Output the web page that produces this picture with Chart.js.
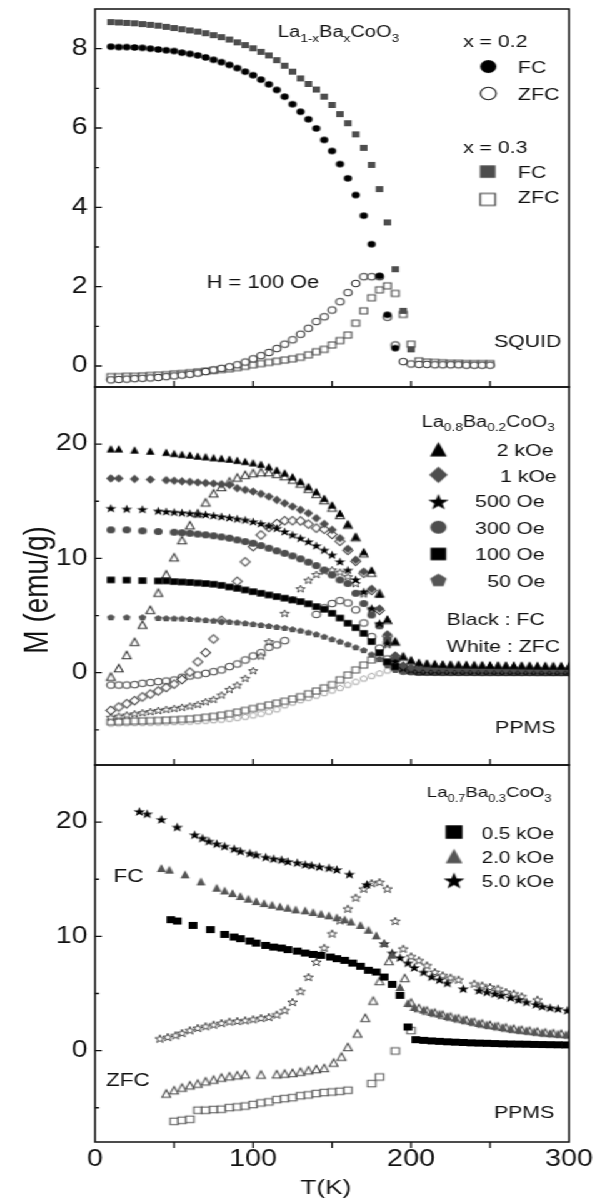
<!DOCTYPE html>
<html>
<head>
<meta charset="utf-8">
<title>M(T) — La1-xBaxCoO3</title>
<script src="https://cdn.jsdelivr.net/npm/chart.js@4.4.1/dist/chart.umd.min.js"></script>
<style>
  html, body { margin:0; padding:0; background:#fff; overflow:hidden; }
  /* panels are laid out on a 480px grid and stretched to the 600px page width */
  #stage { position:absolute; left:0; top:0; width:480px; height:1202px; transform:scaleX(1.25); transform-origin:0 0; }
  #stage canvas { position:absolute; left:0; }
</style>
</head>
<body>
<div id="stage">
  <canvas id="chart-squid" width="480" height="392" style="top:0"></canvas>
  <canvas id="chart-x02" width="480" height="388" style="top:382px"></canvas>
  <canvas id="chart-x03" width="480" height="442" style="top:760px"></canvas>
</div>
<script>
/* ---------- SQUID, H = 100 Oe (x = 0.2 and x = 0.3) ---------- */
const squidT = [10,15,20,25,30,35,40,45,50,55, 60,65,70,75,80,85,90,95,100,105,
  110,115,120,125,130,135,140,145,150,155, 160,165,170,175,180,185,190,195,200,205,
  210,215,220,225,230,235,240,245,250];
const squidFC02 = [8.05,8.04,8.04,8.03,8.02,8.0,7.98,7.96,7.94,7.9, 7.87,7.83,7.78,7.72,7.66,7.59,7.51,7.42,7.33,7.22,
  7.1,6.96,6.79,6.6,6.41,6.22,5.99,5.7,5.42,5.09, 4.73,4.31,3.79,3.07,2.27,1.29,0.45,null,null,null,
  null,null,null,null,null,null,null,null,null];
const squidZFC02 = [-0.35,-0.34,-0.33,-0.32,-0.31,-0.3,-0.29,-0.27,-0.25,-0.23, -0.21,-0.18,-0.14,-0.1,-0.06,-0.02,0.03,0.1,0.18,0.26,
  0.34,0.44,0.55,0.66,0.8,0.95,1.12,1.24,1.41,1.62, 1.85,2.08,2.25,2.25,2.25,1.23,0.53,0.11,0.05,0.04,
  0.04,0.03,0.03,0.03,0.03,0.02,0.02,0.02,0.02];
const squidFC03 = [8.67,8.66,8.65,8.64,8.62,8.6,8.58,8.55,8.52,8.49, 8.46,8.43,8.39,8.34,8.29,8.23,8.16,8.09,8.01,7.92,
  7.83,7.71,7.57,7.42,7.25,7.11,6.97,6.79,6.58,6.35, 6.12,5.84,5.5,5.07,4.46,3.62,2.44,1.39,0.42,null,
  null,null,null,null,null,null,null,null,null];
const squidZFC03 = [-0.27,-0.27,-0.26,-0.26,-0.25,-0.24,-0.23,-0.22,-0.2,-0.19, -0.17,-0.15,-0.13,-0.11,-0.09,-0.07,-0.04,-0.01,0.03,0.06,
  0.09,0.12,0.15,0.18,0.22,0.28,0.36,0.42,0.53,0.64, 0.78,1.08,1.39,1.72,1.92,2.02,1.83,1.3,0.55,0.13,
  0.1,0.09,0.08,0.07,0.07,0.06,0.06,0.06,0.06];

/* ---------- PPMS, La0.8Ba0.2CoO3, six fields (null = no reading) ---------- */
const ppmsT = [10,15,20,25,30,35,40,45,50,55, 60,65,70,75,80,85,90,95,100,105,
  110,115,120,125,130,135,140,145,150,155, 160,165,170,175,180,185,190,195,200,205,
  210,215,220,225,230,235,240,245,250,255, 260,265,270,275,280,285,290,295,300];
const fc2k = [19.6,19.6,null,19.5,null,19.4,null,19.3,19.2,19.12, 19.06,18.97,18.91,18.83,18.77,18.7,18.6,18.5,18.38,18.25,
  18.04,17.75,17.5,17.16,16.75,16.3,15.85,15.27,14.69,13.96, 13.02,11.91,10.6,9.0,6.9,4.7,2.75,1.45,1.1,0.9,
  0.82,0.78,0.75,0.73,0.71,0.7,0.69,0.68,0.67,0.66, 0.65,0.64,0.63,0.62,0.61,0.6,0.6,0.59,0.58];
const zfc2k = [-0.35,0.4,1.55,2.7,4.2,5.5,7.0,8.6,10.1,11.6, 12.9,13.95,14.9,15.7,16.25,16.73,17.08,17.31,17.46,17.55,
  17.55,17.4,17.2,16.9,16.55,16.1,15.65,15.1,14.45,13.8, 12.95,11.85,10.45,8.75,6.95,4.6,2.72,1.4,1.05,0.8,
  0.74,0.7,0.67,0.65,0.64,0.63,0.62,0.61,0.6,0.59, 0.58,0.57,0.56,0.56,0.55,0.55,0.54,0.54,0.53];
const fc1k = [17.0,17.0,null,16.95,null,16.9,null,16.85,16.8,16.75, 16.7,16.65,16.6,16.55,16.5,16.44,16.15,16.0,15.85,15.65,
  15.41,15.12,14.83,14.54,14.25,13.96,13.52,13.02,12.5,11.77, 10.83,9.87,8.84,7.33,5.6,3.35,1.5,0.6,0.4,0.36,
  0.34,0.33,0.32,0.31,0.3,0.3,0.29,0.29,0.28,0.28, 0.27,0.27,0.27,0.26,0.26,0.26,0.25,0.25,0.25];
const zfc1k = [-3.3,-3.0,-2.72,-2.45,-2.12,-1.87,-1.6,-1.3,-1.0,-0.6, 0.05,0.95,1.75,2.95,4.58,null,8.0,9.7,11.03,12.05,
  12.7,13.05,13.3,13.3,13.28,13.0,12.65,12.55,12.1,11.5, 10.7,9.75,8.7,7.2,5.45,3.2,1.4,0.55,0.35,0.33,
  0.32,0.31,0.3,0.29,0.29,0.28,0.28,0.27,0.27,0.26, 0.26,0.26,0.25,0.25,0.25,0.24,0.24,0.24,0.24];
const fc500 = [14.39,null,14.33,null,14.3,null,14.16,14.1,14.05,14.0, 13.95,13.9,13.84,13.75,13.66,13.57,13.46,13.37,13.22,13.05,
  12.85,12.64,12.35,12.06,11.77,11.47,11.12,10.74,10.31,9.72, 8.99,8.15,7.09,5.64,4.33,2.6,1.0,0.4,0.25,0.22,
  0.21,0.2,0.2,0.19,0.19,0.18,0.18,0.18,0.17,0.17, 0.17,0.16,0.16,0.16,0.16,0.15,0.15,0.15,0.15];
const zfc500 = [-3.9,-3.8,-3.7,-3.6,-3.5,-3.4,-3.3,-3.21,-3.12,-3.03, -2.92,-2.77,-2.54,-2.33,-1.95,-1.46,-1.08,-0.49,0.18,1.46,
  2.72,null,5.2,6.4,7.35,8.1,8.6,8.9,9.0,8.8, 8.4,7.8,6.9,5.5,4.2,2.45,0.9,0.3,0.2,0.19,
  0.18,0.18,0.17,0.17,0.17,0.16,0.16,0.16,0.15,0.15, 0.15,0.15,0.14,0.14,0.14,0.14,0.13,0.13,0.13];
const fc300 = [12.5,null,12.5,null,12.41,null,12.35,null,12.29,12.25, 12.2,12.13,12.06,11.98,11.88,11.77,11.62,11.47,11.33,11.12,
  10.89,10.66,10.45,10.22,9.96,9.67,9.37,8.99,8.55,8.12, 7.8,6.95,6.05,5.05,4.1,2.9,1.2,0.3,0.15,0.13,
  0.12,0.12,0.11,0.11,0.1,0.1,0.1,0.1,0.09,0.09, 0.09,0.09,0.08,0.08,0.08,0.08,0.08,0.07,0.07];
const zfc300 = [-1.08,-1.08,-1.08,-1.05,-0.93,-0.87,-0.78,-0.73,-0.64,-0.4, -0.29,-0.2,-0.06,0.09,0.24,0.53,0.76,1.11,1.46,1.75,
  2.22,2.43,2.8,null,null,null,5.1,5.68,6.05,6.3, 6.1,5.5,4.35,3.15,2.15,1.2,0.45,0.15,0.1,0.1,
  0.09,0.09,0.09,0.08,0.08,0.08,0.08,0.07,0.07,0.07, 0.07,0.07,0.06,0.06,0.06,0.06,0.06,0.06,0.05];
const fc100 = [8.12,null,8.1,null,8.06,null,8.03,8.03,7.97,7.94, 7.9,7.85,7.8,7.74,7.64,7.5,7.38,7.24,7.09,6.95,
  6.8,6.66,6.52,6.37,6.22,6.03,5.78,5.55,5.2,4.78, 4.33,3.94,3.44,2.72,1.75,0.96,0.53,0.38,0.2,0.07,
  0.07,0.06,0.06,0.06,0.05,0.05,0.05,0.05,0.05,0.04, 0.04,0.04,0.04,0.04,0.04,0.04,0.03,0.03,0.03];
const zfc100 = [-4.3,-4.28,-4.26,-4.24,-4.22,-4.2,-4.18,-4.15,-4.12,-4.08, -4.04,-3.98,-3.9,-3.82,-3.72,-3.6,-3.45,-3.3,-3.14,-2.98,
  -2.82,-2.66,-2.5,-2.3,-2.1,-1.85,-1.6,-1.33,-1.05,-0.62, -0.2,0.24,0.67,1.11,1.26,0.95,0.55,0.3,0.15,0.06,
  0.06,0.06,0.05,0.05,0.05,0.05,0.05,0.04,0.04,0.04, 0.04,0.04,0.04,0.04,0.03,0.03,0.03,0.03,0.03];
const fc50 = [4.85,null,4.85,null,4.85,null,4.78,4.76,4.75,4.73, 4.7,4.66,4.6,4.55,4.5,4.45,4.4,4.33,4.25,4.17,
  4.09,4.0,3.92,3.8,3.68,3.52,3.36,3.15,2.93,2.72, 2.48,2.22,1.97,1.6,1.2,0.65,0.24,0.1,0.05,0.04,
  0.04,0.04,0.03,0.03,0.03,0.03,0.03,0.03,0.02,0.02, 0.02,0.02,0.02,0.02,0.02,0.02,0.02,0.02,0.02];
const zfc50 = [-4.45,-4.43,-4.42,-4.4,-4.39,-4.38,-4.36,-4.34,-4.32,-4.3, -4.27,-4.24,-4.2,-4.15,-4.1,-4.03,-3.95,-3.85,-3.73,-3.58,
  -3.4,-3.2,-2.85,-2.6,-2.4,-2.2,-2.0,-1.78,-1.55,-1.32, -1.05,-0.78,-0.5,-0.27,-0.05,0.2,0.35,0.2,0.1,0.04,
  0.04,0.03,0.03,0.03,0.03,0.03,0.02,0.02,0.02,0.02, 0.02,0.02,0.02,0.02,0.02,0.02,0.02,0.02,0.02];

/* ---------- PPMS, La0.7Ba0.3CoO3, three fields ---------- */
const fc05T = [48,52,62,73,82,88,92,98,102,108, 113,118,122,128,133,138,143,149,153,158,
  163,168,173,178,183,188,193,198,203,208, 213,218,223,228,233,238,243,248,253,258,
  263,268,273,278,283,288,293,298];
const fc05 = [11.46,11.34,10.96,10.59,10.17,9.94,9.8,9.59,9.41,9.21, 9.06,8.98,8.84,8.71,8.54,8.42,8.34,8.19,8.05,7.9,
  7.66,7.38,7.03,6.88,6.44,5.8,4.84,2.07,0.96,0.9, 0.85,0.81,0.77,0.74,0.71,0.68,0.66,0.64,0.62,0.6,
  0.58,0.57,0.56,0.54,0.53,0.52,0.51,0.5];
const zfc05T = [50,55,60,65,70,75,80,85,90,95, 100,105,110,115,120,125,130,135,140,145, 150,155,160,175,180,190,200];
const zfc05 = [-6.19,-6.1,-6.01,-5.22,-5.22,-5.16,-5.13,-4.99,-4.93,-4.85, -4.72,-4.58,-4.49,-4.29,-4.2,-4.12,-3.95,-3.88,-3.76,-3.67,
  -3.62,-3.56,-3.47,-2.89,-2.31,-0.03,1.75];
const fc20T = [42,47,57,67,77,82,87,92,97,102, 107,112,117,122,127,133,138,143,148,153,
  158,162,168,173,178,183,188,193,198,202, 208,213,218,223,228,233,238,243,248,253,
  258,263,268,273,278,283,288,293,298];
const fc20 = [15.98,15.84,15.43,14.81,14.26,14.02,13.79,13.53,13.3,13.09, 12.91,12.77,12.62,12.51,12.36,12.28,12.13,11.98,11.84,11.67,
  11.49,11.3,11.0,10.58,10.09,9.41,8.4,5.57,4.17,3.82, 3.59,3.38,3.24,3.03,2.89,2.74,2.59,2.42,2.3,2.19,
  2.07,1.95,1.86,1.78,1.69,1.6,1.54,1.49,1.43];
const zfc20T = [45,50,55,60,65,70,75,80,85,90, 95,105,115,120,125,130,135,140,145,151,
  156,160,166,171,176,180,186,196,200,205, 210,215,220,225,230,235,240,245,250,255,
  260,265,270,275,280,285,290,295,300];
const zfc20 = [-3.76,-3.47,-3.24,-3.04,-2.89,-2.69,-2.54,-2.36,-2.25,-2.16, -2.07,-2.1,-2.07,-2.01,-1.95,-1.85,-1.72,-1.62,-1.52,-1.05,
  -0.53,0.32,1.5,2.87,4.37,6.09,7.84,6.35,4.2,3.72, 3.5,3.32,3.14,2.97,2.82,2.67,2.52,2.37,2.25,2.13,
  2.02,1.91,1.82,1.74,1.66,1.58,1.52,1.47,1.42];
const fc50kT = [28,33,42,52,63,68,72,77,82,88, 92,98,102,108,113,118,122,128,133,137,
  142,148,153,161,172,183,188,193,198,202, 208,213,218,223,233,243,248,253,257,263,
  268,273,279,283,288,293,299];
const fc50k = [20.94,20.73,20.24,19.57,18.9,18.6,18.34,18.11,17.9,17.67, 17.46,17.29,17.14,16.94,16.8,16.71,16.56,16.45,16.3,16.22,
  16.1,16.0,15.85,15.45,14.55,9.38,8.55,8.14,7.68,7.28, 6.88,6.47,6.21,5.92,5.42,5.28,5.13,4.99,4.84,4.64,
  4.46,4.25,4.05,3.88,3.76,3.67,3.53];
const zfc50kT = [41,46,51,55,60,65,70,75,80,85, 90,95,100,105,110,115,120,125,130,135,
  140,145,150,155,160,165,170,175,180,185, 190,195,200,205,210,215,220,225,230,240,
  245,250,255,260,265,270,280];
const zfc50k = [1.05,1.19,1.34,1.54,1.78,1.98,2.13,2.27,2.41,2.54, 2.59,2.65,2.74,2.85,2.94,3.15,3.53,4.25,5.2,6.44,
  7.76,9.0,10.24,11.4,12.42,13.39,14.17,14.66,14.75,14.17, 11.34,8.92,8.25,7.9,7.46,6.88,6.59,6.39,6.21,5.86,
  5.7,5.57,5.42,5.13,4.99,4.75,4.46];

/* ---------- drawing helpers ---------- */
const FONT = '"Liberation Sans", Arial, Helvetica, sans-serif';
const INK = '#111';

const pts = (xs, ys) => xs.map((x, i) => ({ x, y: ys[i] })).filter(p => p.y !== null);

// point sprites; h is the marker height in px
function sprite(shape, h, fill, stroke, lw = 1.1){
  const pad = Math.ceil(lw) + 1;
  const dim = Math.ceil(h) + pad * 2;
  const c = document.createElement('canvas');
  c.width = c.height = dim;
  const g = c.getContext('2d');
  const cx = dim / 2, cy = dim / 2, r = h / 2;
  g.beginPath();
  if(shape === 'circle') g.arc(cx, cy, r, 0, Math.PI * 2);
  else if(shape === 'square') g.rect(cx - r, cy - r, h, h);
  else if(shape === 'diamond'){ g.moveTo(cx, cy - r); g.lineTo(cx + r * 0.9, cy); g.lineTo(cx, cy + r); g.lineTo(cx - r * 0.9, cy); g.closePath(); }
  else if(shape === 'triangle'){ g.moveTo(cx, cy - r); g.lineTo(cx + h * 0.46, cy + r); g.lineTo(cx - h * 0.46, cy + r); g.closePath(); }
  else {
    // five-pointed star or pentagon
    const R = h / 1.81, inner = shape === 'star' ? R * 0.4 : R * Math.cos(Math.PI / 5);
    const oy = cy + R * 0.1;
    for(let i = 0; i < 10; i++){
      const a = -Math.PI / 2 + i * Math.PI / 5;
      const rad = i % 2 ? inner : R;
      if(shape === 'pentagon' && i % 2) continue;
      const px = cx + rad * Math.cos(a), py = oy + rad * Math.sin(a);
      i ? g.lineTo(px, py) : g.moveTo(px, py);
    }
    g.closePath();
  }
  if(fill){ g.fillStyle = fill; g.fill(); }
  if(stroke){ g.lineWidth = lw; g.strokeStyle = stroke; g.lineJoin = 'miter'; g.stroke(); }
  return c;
}

function drawRich(ctx, x, y, parts, size, align){
  const widths = parts.map(([txt, sub]) => { ctx.font = `${sub ? size * 0.68 : size}px ${FONT}`; return ctx.measureText(txt).width; });
  let cx = align === 'right' ? x - widths.reduce((a, b) => a + b, 0) : x;
  parts.forEach(([txt, sub], i) => {
    ctx.font = `${sub ? size * 0.68 : size}px ${FONT}`;
    ctx.fillText(txt, cx, sub ? y + size * 0.3 : y);
    cx += widths[i];
  });
}

// frame, inward ticks, labels and key symbols for one panel
const panelPlugin = {
  id: 'panel',
  afterDatasetsDraw(chart, args, opts){
    const { ctx, chartArea: a, scales: { x, y } } = chart;
    ctx.save();
    ctx.strokeStyle = INK;
    ctx.lineWidth = 1.5;
    ctx.strokeRect(a.left, a.top, a.right - a.left, a.bottom - a.top);

    ctx.beginPath();
    opts.yMinor.concat(opts.yMajor).forEach(v => {
      const py = y.getPixelForValue(v);
      ctx.moveTo(a.left, py);
      ctx.lineTo(a.left + (opts.yMajor.includes(v) ? 5.4 : 3.2), py);
    });
    const dir = opts.xTicksOut ? 1 : -1;
    [50, 100, 150, 200, 250].forEach(v => {
      const px = x.getPixelForValue(v);
      ctx.moveTo(px, a.bottom);
      ctx.lineTo(px, a.bottom + dir * 6);
    });
    ctx.lineWidth = 1.3;
    ctx.stroke();

    ctx.fillStyle = INK;
    ctx.textBaseline = 'alphabetic';
    (opts.texts || []).forEach(t => {
      drawRich(ctx, x.getPixelForValue(t.t), y.getPixelForValue(t.m), t.parts, t.size || 17, t.align);
    });
    (opts.keys || []).forEach(k => {
      ctx.drawImage(k.img, x.getPixelForValue(k.t) - k.img.width / 2, y.getPixelForValue(k.m) - k.img.height / 2);
    });

    if(opts.yTitle){
      ctx.save();
      ctx.translate(opts.yTitle.px, y.getPixelForValue(opts.yTitle.m));
      ctx.rotate(-Math.PI / 2);
      ctx.font = `${opts.yTitle.size}px ${FONT}`;
      ctx.textAlign = 'center';
      ctx.textBaseline = 'middle';
      ctx.fillText(opts.yTitle.text, 0, 0);
      ctx.restore();
    }
    if(opts.xTitle){
      ctx.font = `${opts.xTitle.size}px ${FONT}`;
      ctx.textAlign = 'center';
      ctx.fillText(opts.xTitle.text, x.getPixelForValue(opts.xTitle.t), a.bottom + opts.xTitle.dy);
    }
    ctx.restore();
  }
};

// fixed axis boxes so the three frames line up edge to edge
function fixBox(s, w, h){
  if(w !== null) s.width = w;
  if(h !== null) s.height = h;
  s.paddingTop = s.paddingBottom = s.paddingLeft = s.paddingRight = 0;
}

function buildPanel(id, cfg){
  return new Chart(document.getElementById(id), {
    type: 'scatter',
    data: { datasets: cfg.series.map(s => ({ label: s.label, data: s.data, pointStyle: s.img, pointRadius: 4, pointHoverRadius: 4 })) },
    options: {
      responsive: false, animation: false, events: [],
      layout: { padding: { top: cfg.padTop, right: 24.8, bottom: 0, left: 0 } },
      plugins: { legend: { display: false }, tooltip: { enabled: false }, panel: cfg.panel },
      scales: {
        x: {
          type: 'linear', min: 0, max: 300, bounds: 'data',
          grid: { display: false, drawTicks: false }, border: { display: false },
          afterBuildTicks: s => { s.ticks = [0, 100, 200, 300].map(value => ({ value })); },
          afterFit: s => fixBox(s, null, cfg.xHeight),
          ticks: { display: !!cfg.xLabels, font: { family: FONT, size: 23 }, color: INK, padding: 4, maxRotation: 0, autoSkip: false }
        },
        y: {
          type: 'linear', min: cfg.yMin, max: cfg.yMax, bounds: 'data',
          grid: { display: false, drawTicks: false }, border: { display: false },
          afterBuildTicks: s => { s.ticks = cfg.panel.yMajor.map(value => ({ value })); },
          afterFit: s => fixBox(s, 76, null),
          ticks: { font: { family: FONT, size: 23 }, color: INK, padding: 6 }
        }
      }
    },
    plugins: [panelPlugin]
  });
}

/* ---------- marker styles ---------- */
const GRAY = '#4d4d4d';
const M = {
  dot: sprite('circle', 6.5, '#000'),
  ring: sprite('circle', 6.5, '#fff', '#333'),
  sq: sprite('square', 6, GRAY),
  box: sprite('square', 6, '#fff', '#444'),
  tri: sprite('triangle', 7.5, '#000'),
  triO: sprite('triangle', 7.5, '#fff', '#333'),
  dia: sprite('diamond', 8.5, GRAY),
  diaO: sprite('diamond', 8.5, '#fff', '#333'),
  star: sprite('star', 8.5, '#000'),
  starO: sprite('star', 7, '#fff', '#333', 0.9),
  ball: sprite('circle', 7, GRAY),
  ballO: sprite('circle', 6.5, '#fff', '#444'),
  blk: sprite('square', 6.5, '#000'),
  blkO: sprite('square', 6, '#fff', '#555'),
  pent: sprite('pentagon', 6, '#555'),
  pentO: sprite('pentagon', 5.5, '#fff', '#a0a0a0', 1),
  sq3: sprite('square', 7, '#000'),
  sq3O: sprite('square', 6.5, '#fff', '#555'),
  tri3: sprite('triangle', 8, '#555'),
  tri3O: sprite('triangle', 7.5, '#fff', '#444'),
  star3: sprite('star', 9, '#000'),
  star3O: sprite('star', 7.5, '#fff', '#333', 0.9)
};
const sub = txt => [txt, true];

/* ---------- top: SQUID ---------- */
buildPanel('chart-squid', {
  padTop: 9, xHeight: 5, yMin: -0.53, yMax: 9.0,
  series: [
    { label: 'x=0.2 FC', data: pts(squidT, squidFC02), img: M.dot },
    { label: 'x=0.3 FC', data: pts(squidT, squidFC03), img: M.sq },
    { label: 'x=0.2 ZFC', data: pts(squidT, squidZFC02), img: M.ring },
    { label: 'x=0.3 ZFC', data: pts(squidT, squidZFC03), img: M.box }
  ],
  panel: {
    yMajor: [0, 2, 4, 6, 8], yMinor: [1, 3, 5, 7],
    texts: [
      { t: 115.8, m: 8.29, size: 16, parts: [['La'], sub('1-x'), ['Ba'], sub('x'), ['CoO'], sub('3')] },
      { t: 232.9, m: 8.05, parts: [['x = 0.2']] },
      { t: 267.7, m: 7.38, parts: [['FC']] },
      { t: 267.7, m: 6.71, parts: [['ZFC']] },
      { t: 232.9, m: 5.36, parts: [['x = 0.3']] },
      { t: 267.7, m: 4.73, parts: [['FC']] },
      { t: 267.7, m: 4.1, parts: [['ZFC']] },
      { t: 70.7, m: 1.96, size: 17.5, parts: [['H = 100 Oe']] },
      { t: 252.5, m: 0.49, parts: [['SQUID']] }
    ],
    keys: [
      { t: 248.9, m: 7.55, img: sprite('circle', 13, '#000') },
      { t: 248.9, m: 6.87, img: sprite('circle', 12.5, '#fff', '#222', 1.2) },
      { t: 248.5, m: 4.9, img: sprite('square', 12.5, GRAY) },
      { t: 248.5, m: 4.2, img: sprite('square', 12, '#fff', '#333', 1.2) }
    ]
  }
});

/* ---------- middle: La0.8Ba0.2CoO3 ---------- */
buildPanel('chart-x02', {
  padTop: 5, xHeight: 5, yMin: -8.08, yMax: 25,
  series: [
    { label: '2 kOe FC', data: pts(ppmsT, fc2k), img: M.tri },
    { label: '1 kOe FC', data: pts(ppmsT, fc1k), img: M.dia },
    { label: '500 Oe FC', data: pts(ppmsT, fc500), img: M.star },
    { label: '300 Oe FC', data: pts(ppmsT, fc300), img: M.ball },
    { label: '100 Oe FC', data: pts(ppmsT, fc100), img: M.blk },
    { label: '50 Oe FC', data: pts(ppmsT, fc50), img: M.pent },
    { label: '2 kOe ZFC', data: pts(ppmsT, zfc2k), img: M.triO },
    { label: '1 kOe ZFC', data: pts(ppmsT, zfc1k), img: M.diaO },
    { label: '500 Oe ZFC', data: pts(ppmsT, zfc500), img: M.starO },
    { label: '300 Oe ZFC', data: pts(ppmsT, zfc300), img: M.ballO },
    { label: '100 Oe ZFC', data: pts(ppmsT, zfc100), img: M.blkO },
    { label: '50 Oe ZFC', data: pts(ppmsT, zfc50), img: M.pentO }
  ],
  panel: {
    yMajor: [0, 10, 20], yMinor: [-5, 5, 15],
    texts: [
      { t: 206.7, m: 21.54, size: 16, parts: [['La'], sub('0.8'), ['Ba'], sub('0.2'), ['CoO'], sub('3')] },
      { t: 254.2, m: 19.0, parts: [['2 kOe']] },
      { t: 256.3, m: 16.73, parts: [['1 kOe']] },
      { t: 240.5, m: 14.48, parts: [['500 Oe']] },
      { t: 240.5, m: 12.15, parts: [['300 Oe']] },
      { t: 240.5, m: 9.87, parts: [['100 Oe']] },
      { t: 248.3, m: 7.53, parts: [['50 Oe']] },
      { t: 222.6, m: 4.18, parts: [['Black : FC']] },
      { t: 222.6, m: 1.84, parts: [['White : ZFC']] },
      { t: 253.2, m: -5.31, parts: [['PPMS']] }
    ],
    keys: [
      { t: 217.3, m: 19.56, img: sprite('triangle', 14.5, '#000') },
      { t: 217.3, m: 17.31, img: sprite('diamond', 16.5, GRAY) },
      { t: 217.3, m: 14.97, img: sprite('star', 15.5, '#000') },
      { t: 217.3, m: 12.73, img: sprite('circle', 13, GRAY) },
      { t: 217.3, m: 10.39, img: sprite('square', 12.5, '#000') },
      { t: 217.3, m: 8.12, img: sprite('pentagon', 12.5, '#555') }
    ],
    yTitle: { text: 'M (emu/g)', px: 30.4, m: 7.24, size: 28 }
  }
});

/* ---------- bottom: La0.7Ba0.3CoO3 ---------- */
buildPanel('chart-x03', {
  padTop: 5, xHeight: 60, yMin: -8.0, yMax: 25, xLabels: true,
  series: [
    { label: '0.5 kOe FC', data: pts(fc05T, fc05), img: M.sq3 },
    { label: '2.0 kOe FC', data: pts(fc20T, fc20), img: M.tri3 },
    { label: '5.0 kOe FC', data: pts(fc50kT, fc50k), img: M.star3 },
    { label: '0.5 kOe ZFC', data: pts(zfc05T, zfc05), img: M.sq3O },
    { label: '2.0 kOe ZFC', data: pts(zfc20T, zfc20), img: M.tri3O },
    { label: '5.0 kOe ZFC', data: pts(zfc50kT, zfc50k), img: M.star3O }
  ],
  panel: {
    yMajor: [0, 10, 20], yMinor: [-5, 5, 15], xTicksOut: true,
    texts: [
      { t: 209.9, m: 22.19, size: 15, parts: [['La'], sub('0.7'), ['Ba'], sub('0.3'), ['CoO'], sub('3')] },
      { t: 244.7, m: 18.55, size: 16.5, parts: [['0.5 kOe']] },
      { t: 244.7, m: 16.45, size: 16.5, parts: [['2.0 kOe']] },
      { t: 244.7, m: 14.31, size: 16.5, parts: [['5.0 kOe']] },
      { t: 11.6, m: 14.75, size: 18, parts: [['FC']] },
      { t: 7, m: -3.12, size: 18, parts: [['ZFC']] },
      { t: 252.5, m: -5.86, parts: [['PPMS']] }
    ],
    keys: [
      { t: 227.2, m: 19.13, img: sprite('square', 13.5, '#000') },
      { t: 227.2, m: 17.03, img: sprite('triangle', 14.5, '#555') },
      { t: 227.2, m: 14.9, img: sprite('star', 16, '#000') }
    ],
    xTitle: { text: 'T(K)', t: 146, dy: 52, size: 21 }
  }
});
</script>
</body>
</html>
